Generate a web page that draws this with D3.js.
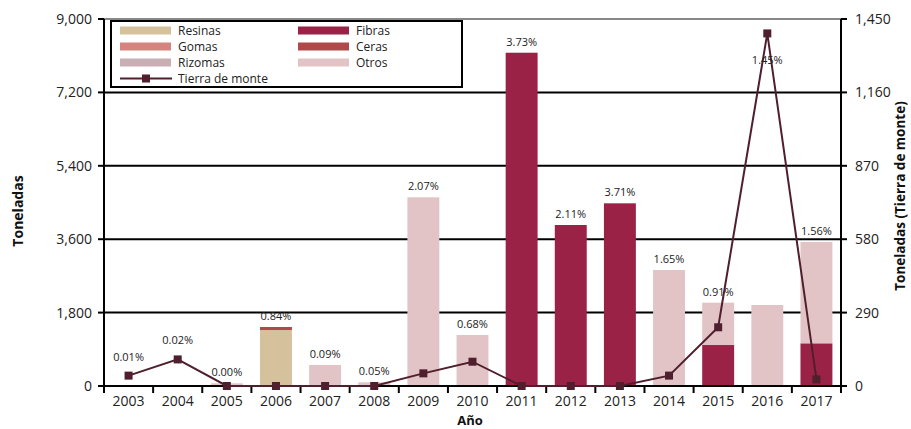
<!DOCTYPE html>
<html>
<head>
<meta charset="utf-8">
<script src="https://cdn.jsdelivr.net/npm/d3@7"></script>
<style>
  body { margin: 0; background: #fff; }
  svg { font-family: 'Open Sans', sans-serif; }
</style>
</head>
<body>
<svg id="chart" width="911" height="429"></svg>
<script>
// datos
const years = ['2003','2004','2005','2006','2007','2008','2009','2010','2011','2012','2013','2014','2015','2016','2017']
const resinas = [0,0,0,1373,0,0,0,0,0,0,0,0,0,0,0]
const gomas = [0,0,0,0,0,0,0,0,0,0,0,0,0,0,0]
const rizomas = [0,0,0,0,0,0,0,0,0,0,0,0,0,0,0]
const fibras = [0,0,0,0,0,0,0,0,8173,3948,4480,0,1005,0,1047]
const ceras = [0,0,0,74,0,0,0,0,0,0,0,0,0,0,0]
const otros = [0,0,66,0,515,90,4627,1250,0,0,0,2845,1038,1986,2484]
const tierra = [41,105,0,0,0,0,50,96,0,0,0,41,232,1393,26]
const shares = ['0.01%','0.02%','0.00%','0.84%','0.09%','0.05%','2.07%','0.68%','3.73%','2.11%','3.71%','1.65%','0.91%','1.45%','1.56%']
const leftTicks = [0,1800,3600,5400,7200,9000]
const rightTicks = [0,290,580,870,1160,1450]

const series = [
    {name: 'Resinas', values: resinas, color: '#d5c19b'},
    {name: 'Gomas', values: gomas, color: '#d4857f'},
    {name: 'Rizomas', values: rizomas, color: '#c9aeb3'},
    {name: 'Fibras', values: fibras, color: '#9b2247'},
    {name: 'Ceras', values: ceras, color: '#b0494a'},
    {name: 'Otros', values: otros, color: '#e3c4c6'}
]
const lineColor = '#4f1f2d'

const svg = d3.select('#chart')
const margin = {left: 104, right: 70, top: 19, bottom: 43}
const W = 911, H = 429
const x0 = margin.left, x1 = W - margin.right
const y0 = H - margin.bottom, y1 = margin.top

const xScale = d3.scaleBand().domain(years).range([x0, x1]).paddingInner(0.35).paddingOuter(0.175)
const yScale = d3.scaleLinear().domain([0, 9000]).range([y0, y1])
const y2Scale = d3.scaleLinear().domain([0, 1450]).range([y0, y1])

// lineas de cuadricula
svg.append('g').selectAll('line')
    .data(leftTicks.slice(1))
    .join('line')
    .attr('x1', x0).attr('x2', x1)
    .attr('y1', d => yScale(d)).attr('y2', d => yScale(d))
    .attr('stroke', d => d === 9000 ? '#888' : '#000')
    .attr('stroke-width', 2)

// barras apiladas
const rows = years.map((y, i) => {
    const r = {year: y}
    series.forEach(s => { r[s.name] = s.values[i] })
    return r
})
const stack = d3.stack().keys(series.map(s => s.name))(rows)
svg.append('g').selectAll('g')
    .data(stack)
    .join('g')
    .attr('fill', (d, i) => series[i].color)
    .selectAll('rect')
    .data(d => d.filter(p => p[1] > p[0]))
    .join('rect')
    .attr('x', d => xScale(d.data.year))
    .attr('width', xScale.bandwidth())
    .attr('y', d => yScale(d[1]))
    .attr('height', d => yScale(d[0]) - yScale(d[1]))

// ejes
const axisG = svg.append('g').attr('stroke', '#000').attr('stroke-width', 2)
axisG.append('line').attr('x1', x0).attr('x2', x0).attr('y1', y1).attr('y2', y0 + 1)
axisG.append('line').attr('x1', x1).attr('x2', x1).attr('y1', y1).attr('y2', y0 + 1)
axisG.append('line').attr('x1', x0 - 1).attr('x2', x1 + 1).attr('y1', y0).attr('y2', y0)

axisG.selectAll('.lt').data(leftTicks).join('line')
    .attr('x1', x0 - 6).attr('x2', x0).attr('y1', d => yScale(d)).attr('y2', d => yScale(d))
axisG.selectAll('.rt').data(rightTicks).join('line')
    .attr('x1', x1).attr('x2', x1 + 6).attr('y1', d => y2Scale(d)).attr('y2', d => y2Scale(d))

const step = xScale.step()
const bounds = years.map(y => xScale(y) - step * xScale.paddingInner() / 2).concat([x1])
axisG.selectAll('.xt').data(bounds).join('line')
    .attr('x1', d => d).attr('x2', d => d).attr('y1', y0).attr('y2', y0 + 7)

const fmt = d3.format(',')
svg.append('g').selectAll('text').data(leftTicks).join('text')
    .attr('x', x0 - 12).attr('y', d => yScale(d)).attr('dy', '0.35em')
    .attr('text-anchor', 'end').attr('font-size', 14).attr('fill', '#222')
    .text(d => fmt(d))
svg.append('g').selectAll('text').data(rightTicks).join('text')
    .attr('x', x1 + 14).attr('y', d => y2Scale(d)).attr('dy', '0.35em')
    .attr('text-anchor', 'start').attr('font-size', 14).attr('fill', '#222')
    .text(d => fmt(d))
svg.append('g').selectAll('text').data(years).join('text')
    .attr('x', d => xScale(d) + xScale.bandwidth() / 2).attr('y', y0 + 20)
    .attr('text-anchor', 'middle').attr('font-size', 14).attr('fill', '#222')
    .text(d => d)

// titulos de ejes
svg.append('text').attr('x', 470).attr('y', 425).attr('text-anchor', 'middle')
    .attr('font-size', 13).attr('font-weight', 'bold').attr('fill', '#111').text('Año')
svg.append('text').attr('transform', 'translate(23,211) rotate(-90)').attr('text-anchor', 'middle')
    .attr('font-size', 14).attr('font-weight', 'bold').attr('fill', '#111').text('Toneladas')
svg.append('text').attr('transform', 'translate(905,196) rotate(-90)').attr('text-anchor', 'middle')
    .attr('font-size', 13.5).attr('font-weight', 'bold').attr('fill', '#111').text('Toneladas (Tierra de monte)')

// linea tierra de monte
const line = d3.line()
    .x((d, i) => xScale(years[i]) + xScale.bandwidth() / 2)
    .y(d => y2Scale(d))
svg.append('path').datum(tierra)
    .attr('d', line).attr('fill', 'none').attr('stroke', lineColor).attr('stroke-width', 2)
svg.append('g').selectAll('rect').data(tierra).join('rect')
    .attr('x', (d, i) => xScale(years[i]) + xScale.bandwidth() / 2 - 4)
    .attr('y', d => y2Scale(d) - 4)
    .attr('width', 8).attr('height', 8).attr('fill', lineColor)

// etiquetas de porcentaje
const labelY = function (i) {
    const barTop = yScale(d3.sum(series, s => s.values[i]))
    const lineY = y2Scale(tierra[i])
    if (lineY < barTop) {
        if (lineY - 15 < y1 + 16) return lineY + 31
        return lineY - 15
    }
    return barTop - 7
}
svg.append('g').selectAll('text').data(shares).join('text')
    .attr('x', (d, i) => xScale(years[i]) + xScale.bandwidth() / 2)
    .attr('y', (d, i) => labelY(i))
    .attr('text-anchor', 'middle').attr('font-size', 11).attr('fill', '#222')
    .text(d => d)

// leyenda
const lg = svg.append('g')
lg.append('rect').attr('x', 111).attr('y', 21).attr('width', 351).attr('height', 66)
    .attr('fill', '#fff').attr('stroke', '#000').attr('stroke-width', 2)
const legendItems = [series[0], series[3], series[1], series[4], series[2], series[5]]
const rowGap = 16
legendItems.forEach((s, i) => {
    const col = i % 2, row = Math.floor(i / 2)
    const lx = col === 0 ? 120 : 298
    const ly = 30.5 + row * rowGap
    lg.append('rect').attr('x', lx).attr('y', ly - 4).attr('width', 51).attr('height', 8).attr('fill', s.color)
    lg.append('text').attr('x', lx + 58).attr('y', ly).attr('dy', '0.35em')
        .attr('font-size', 12).attr('fill', '#222').text(s.name)
})
const ly4 = 30.5 + 3 * rowGap
lg.append('line').attr('x1', 120).attr('x2', 172).attr('y1', ly4).attr('y2', ly4)
    .attr('stroke', lineColor).attr('stroke-width', 2)
lg.append('rect').attr('x', 142).attr('y', ly4 - 4).attr('width', 8).attr('height', 8).attr('fill', lineColor)
lg.append('text').attr('x', 178).attr('y', ly4).attr('dy', '0.35em')
    .attr('font-size', 12).attr('fill', '#222').text('Tierra de monte')
</script>
</body>
</html>
